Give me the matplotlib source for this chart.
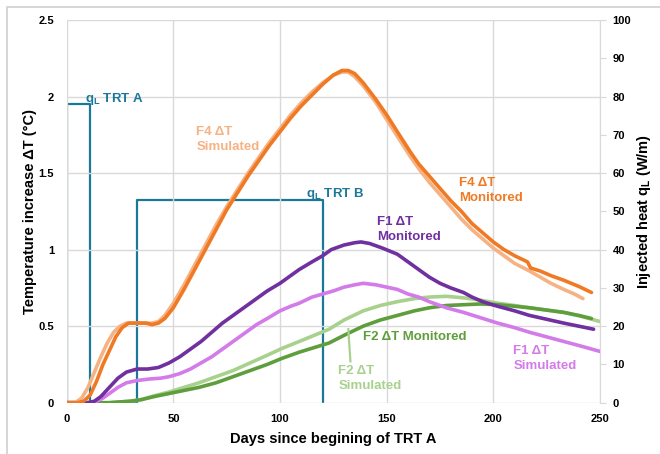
import matplotlib
matplotlib.use("Agg")
import matplotlib.pyplot as plt
from matplotlib.patches import Rectangle

plt.rcParams['font.family'] = ['Liberation Sans', 'DejaVu Sans']
plt.rcParams['font.weight'] = 'bold'
plt.rcParams['axes.labelweight'] = 'bold'
plt.rcParams['mathtext.fontset'] = 'custom'
plt.rcParams['mathtext.rm'] = 'Liberation Sans:bold'
plt.rcParams['mathtext.it'] = 'Liberation Sans:bold'
plt.rcParams['mathtext.bf'] = 'Liberation Sans:bold'

# --- data ---
f4_mon_days = [0, 5, 8, 11, 14, 17, 20, 23, 26, 29, 33, 37, 40, 43, 46, 50, 55, 60, 65, 70, 75, 80, 85,
               90, 95, 100, 105, 110, 115, 120, 125, 129, 132, 135, 139, 145, 150, 155, 161, 165, 170,
               175, 180, 185, 190, 195, 200, 205, 210, 216, 217.5, 222, 227, 233, 240, 246]
f4_mon = [0, 0, 0.01, 0.05, 0.14, 0.25, 0.34, 0.43, 0.49, 0.52, 0.52, 0.52, 0.51, 0.52, 0.55, 0.62, 0.74,
          0.87, 1.00, 1.13, 1.26, 1.37, 1.48, 1.58, 1.68, 1.77, 1.86, 1.94, 2.01, 2.08, 2.14, 2.17, 2.17,
          2.15, 2.09, 1.98, 1.88, 1.77, 1.64, 1.56, 1.48, 1.40, 1.32, 1.25, 1.17, 1.11, 1.05, 1.00, 0.96,
          0.92, 0.88, 0.86, 0.83, 0.80, 0.76, 0.72]

f4_sim_days = [0, 4, 7, 10, 13, 16, 19, 22, 25, 28, 33, 37, 40, 43, 46, 50, 55, 60, 65, 70, 75, 80, 85,
               90, 95, 100, 105, 110, 115, 120, 125, 129, 132, 135, 139, 145, 150, 155, 161, 165, 170,
               175, 180, 185, 190, 195, 200, 205, 210, 217, 222, 227, 233, 238, 242]
f4_sim = [0, 0, 0.03, 0.10, 0.20, 0.30, 0.39, 0.46, 0.50, 0.52, 0.52, 0.52, 0.52, 0.53, 0.57, 0.65, 0.77,
          0.90, 1.03, 1.16, 1.28, 1.39, 1.50, 1.60, 1.70, 1.79, 1.88, 1.96, 2.03, 2.09, 2.14, 2.16, 2.16,
          2.13, 2.07, 1.96, 1.85, 1.74, 1.61, 1.53, 1.44, 1.36, 1.28, 1.20, 1.13, 1.07, 1.01, 0.96, 0.91,
          0.86, 0.82, 0.78, 0.74, 0.71, 0.68]

f1_mon_days = [0, 10, 13, 16, 20, 24, 28, 33, 38, 43, 48, 53, 58, 63, 68, 73, 78, 83, 88, 94, 100, 105,
               109, 115, 120, 124, 130, 135, 138, 142, 148, 155, 160, 165, 170, 175, 180, 186, 190, 195,
               202, 210, 217, 225, 233, 240, 247]
f1_mon = [0, 0, 0.01, 0.04, 0.10, 0.16, 0.20, 0.22, 0.22, 0.23, 0.26, 0.30, 0.35, 0.40, 0.46, 0.52, 0.57,
          0.62, 0.67, 0.73, 0.78, 0.83, 0.87, 0.92, 0.96, 1.00, 1.03, 1.045, 1.05, 1.04, 1.01, 0.97, 0.92,
          0.87, 0.82, 0.78, 0.75, 0.72, 0.69, 0.66, 0.63, 0.60, 0.57, 0.545, 0.52, 0.50, 0.48]

f1_sim_days = [0, 11, 14, 17, 20, 24, 28, 33, 39, 44, 48, 53, 58, 63, 68, 73, 78, 84, 89, 94, 100, 105,
               109, 115, 120, 125, 130, 135, 139, 145, 150, 155, 160, 165, 170, 178, 186, 194, 202, 210,
               217, 225, 233, 241, 250]
f1_sim = [0, 0, 0.01, 0.03, 0.06, 0.10, 0.13, 0.145, 0.155, 0.16, 0.17, 0.19, 0.22, 0.26, 0.30, 0.35,
          0.40, 0.46, 0.51, 0.55, 0.60, 0.63, 0.65, 0.69, 0.71, 0.73, 0.755, 0.77, 0.78, 0.77, 0.755, 0.74,
          0.71, 0.69, 0.66, 0.62, 0.59, 0.555, 0.52, 0.49, 0.46, 0.43, 0.40, 0.37, 0.335]

f2_mon_days = [0, 20, 30, 35, 41, 48, 55, 62, 70, 78, 86, 94, 101, 109, 116, 123, 130, 139, 147, 155, 163,
               170, 178, 186, 194, 202, 210, 217, 225, 233, 240, 246]
f2_mon = [0, 0, 0.01, 0.02, 0.04, 0.06, 0.08, 0.10, 0.13, 0.17, 0.21, 0.25, 0.29, 0.33, 0.36, 0.39, 0.44,
          0.50, 0.54, 0.57, 0.60, 0.62, 0.635, 0.64, 0.645, 0.64, 0.63, 0.62, 0.605, 0.59, 0.57, 0.55]

f2_sim_days = [0, 20, 30, 35, 41, 48, 55, 62, 70, 78, 86, 94, 101, 109, 116, 123, 130, 139, 147, 155, 163,
               170, 178, 186, 194, 202, 210, 217, 225, 233, 241, 250]
f2_sim = [0, 0, 0.01, 0.02, 0.045, 0.07, 0.10, 0.13, 0.17, 0.21, 0.26, 0.31, 0.355, 0.40, 0.44, 0.48, 0.54,
          0.60, 0.635, 0.66, 0.68, 0.69, 0.695, 0.685, 0.67, 0.65, 0.635, 0.62, 0.605, 0.59, 0.565, 0.53]

# injected heat (W/m), step series
q_days = [0, 0, 11, 11, 33, 33, 120, 120]
q_vals = [0, 78, 78, 0, 0, 53, 53, 0]

c_f4_mon = '#F07A24'
c_f4_sim = '#F6B283'
c_f1_mon = '#7030A0'
c_f1_sim = '#D37BE8'
c_f2_mon = '#5E9E3C'
c_f2_sim = '#A9D18E'
c_q = '#1B7898'
grid_c = '#D9D9D9'

fig = plt.figure(figsize=(6.6, 4.54), dpi=100)
ax = fig.add_axes([66.7 / 660, 1 - 402.7 / 454, (600 - 66.7) / 660, (402.7 - 20) / 454])
ax2 = ax.twinx()

ax.plot(f2_sim_days, f2_sim, color=c_f2_sim, lw=2.6, solid_capstyle='round')
ax.plot(f2_mon_days, f2_mon, color=c_f2_mon, lw=2.6, solid_capstyle='round')
ax.plot(f1_sim_days, f1_sim, color=c_f1_sim, lw=2.6, solid_capstyle='round')
ax.plot(f1_mon_days, f1_mon, color=c_f1_mon, lw=2.6, solid_capstyle='round')
ax.plot(f4_sim_days, f4_sim, color=c_f4_sim, lw=2.6, solid_capstyle='round')
ax.plot(f4_mon_days, f4_mon, color=c_f4_mon, lw=2.6, solid_capstyle='round')

ax2.plot(q_days, q_vals, color=c_q, lw=1.6)

ax.set_xlim(0, 250)
ax.set_ylim(0, 2.5)
ax2.set_ylim(0, 100)
ax.set_xticks([0, 50, 100, 150, 200, 250])
ax.set_yticks([0, 0.5, 1, 1.5, 2, 2.5])
ax.set_yticklabels(['0', '0.5', '1', '1.5', '2', '2.5'])
ax2.set_yticks(range(0, 101, 10))
ax.grid(True, color=grid_c, lw=1)
ax.set_axisbelow(True)
for s in ['top', 'left', 'bottom', 'right']:
    ax.spines[s].set_visible(False)
    ax2.spines[s].set_visible(False)
ax2.spines['right'].set_visible(True)
ax2.spines['right'].set_color(grid_c)
ax.tick_params(axis='both', length=0, labelsize=8)
ax.tick_params(axis='x', pad=8)
ax.tick_params(axis='y', pad=9)
ax2.tick_params(axis='y', length=4, color=grid_c, labelsize=8, pad=5)
for lbl in ax.get_xticklabels() + ax.get_yticklabels() + ax2.get_yticklabels():
    lbl.set_fontweight('bold')
ax.set_zorder(ax2.get_zorder() + 1)
ax.patch.set_visible(False)

ax.set_xlabel('Days since begining of TRT A', fontsize=10.5, fontweight='bold', labelpad=6)
ax.set_ylabel('Temperature increase ΔT (°C)', fontsize=10.5, fontweight='bold', labelpad=1)
ax2.set_ylabel('Injected heat q$_\\mathrm{L}$ (W/m)', fontsize=10.5, fontweight='bold', labelpad=3)

tk = dict(fontsize=9.5, fontweight='bold', va='center', ha='left', linespacing=1.3)
ax.text(8.5, 1.985, 'q$_\\mathrm{L}$ TRT A', color=c_q, **tk)
ax.text(112, 1.365, 'q$_\\mathrm{L}$ TRT B', color=c_q, **tk)
ax.text(60.8, 1.72, 'F4 ΔT\nSimulated', color=c_f4_sim, **tk)
ax.text(184, 1.385, 'F4 ΔT\nMonitored', color=c_f4_mon, **tk)
ax.text(145.3, 1.13, 'F1 ΔT\nMonitored', color=c_f1_mon, **tk)
ax.text(139, 0.43, 'F2 ΔT Monitored', color=c_f2_mon, **tk)
ax.text(127.3, 0.16, 'F2 ΔT\nSimulated', color=c_f2_sim, **tk)
ax.text(209.4, 0.29, 'F1 ΔT\nSimulated', color=c_f1_sim, **tk)
ax.plot([133, 132], [0.27, 0.48], color=c_f2_sim, lw=1.6)

fig.patches.append(Rectangle((7 / 660, -0.1), 1.1, 1.1 - 7 / 454, transform=fig.transFigure,
                             fill=False, edgecolor='#D0D0D0', lw=1.2))

fig.savefig('out.png', dpi=100)
